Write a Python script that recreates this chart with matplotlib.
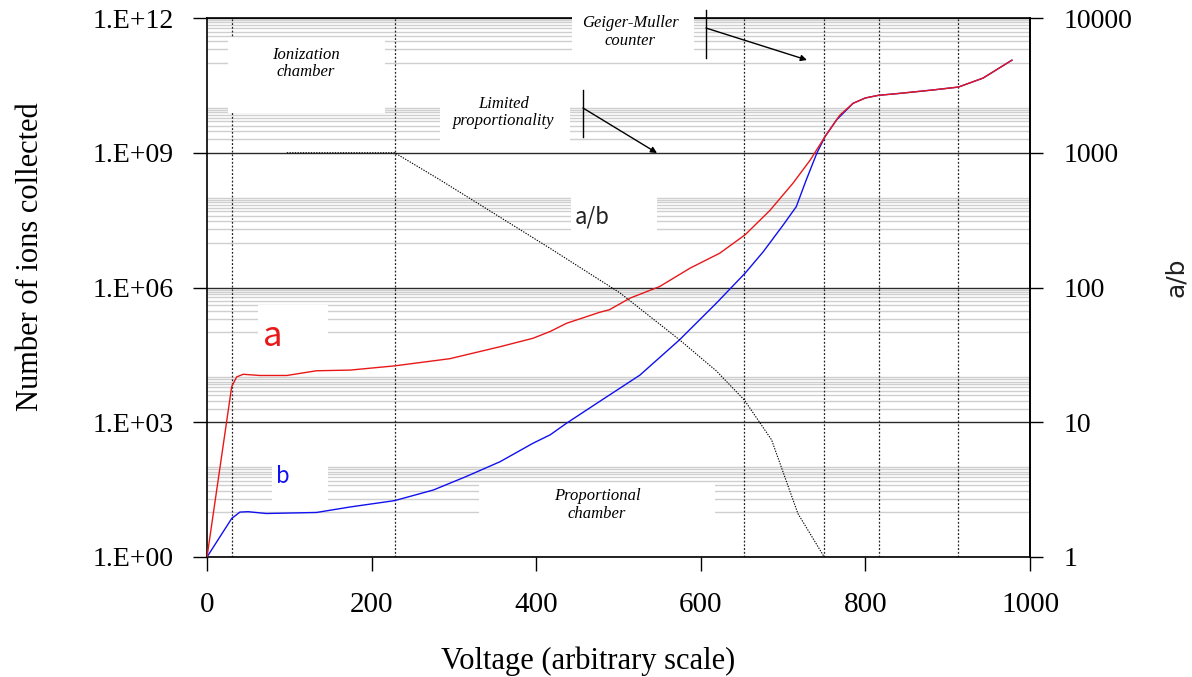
import math
import matplotlib
matplotlib.use("Agg")
import matplotlib.pyplot as plt
from matplotlib.patches import Rectangle
from matplotlib.ticker import FixedLocator, FuncFormatter, NullLocator, NullFormatter

# ---------------- data ----------------
voltage_a = [0, 30, 36, 44, 64, 97, 133, 174, 228, 295, 356, 396, 417, 437, 477, 489,
             514, 550, 587, 623, 654, 684, 712, 733, 751, 769, 785, 800, 816, 842,
             882, 913, 943, 978]
ions_a = [1, 6.2e3, 1.02e4, 1.17e4, 1.1e4, 1.1e4, 1.4e4, 1.45e4, 1.8e4, 2.6e4, 4.8e4,
          7.4e4, 1.05e5, 1.6e5, 2.8e5, 3.2e5, 5.8e5, 1.05e6, 2.7e6, 5.8e6, 1.5e7,
          5.2e7, 2.1e8, 6.9e8, 2.3e9, 6.9e9, 1.26e10, 1.66e10, 1.9e10, 2.1e10,
          2.5e10, 2.9e10, 4.6e10, 1.15e11]

voltage_b = [0, 30, 40, 50, 72, 133, 174, 228, 275, 315, 356, 396, 417, 437, 477, 526,
             574, 619, 654, 676, 700, 716, 728, 741, 751, 765, 785, 800, 816, 842,
             882, 913, 943, 978]
ions_b = [1, 7.2, 10, 10.2, 9.3, 9.8, 13, 18, 31, 62, 132, 340, 525, 955, 2.9e3,
          1.12e4, 6.8e4, 4.5e5, 2.1e6, 6.3e6, 2.45e7, 6.3e7, 2.45e8, 9.8e8, 2.3e9,
          5.4e9, 1.26e10, 1.66e10, 1.9e10, 2.1e10, 2.5e10, 2.9e10, 4.6e10, 1.15e11]

voltage_ratio = [97, 228, 283, 417, 502, 574, 619, 653, 686, 718, 750]
ratio_ab = [1000, 1000, 630, 195, 91, 41, 24, 14.6, 7.4, 2.1, 1]

region_bounds = [30, 228, 653, 750, 816, 913]

x_ticks = [0, 200, 400, 600, 800, 1000]
left_ticks = [1e0, 1e3, 1e6, 1e9, 1e12]
right_ticks = [1, 10, 100, 1000, 10000]

# ---------------- figure ----------------
W, H = 1192, 677
fig = plt.figure(figsize=(W / 100, H / 100), dpi=100)
ax = fig.add_axes([207 / W, 1 - 557 / H, 823 / W, 539 / H])
ax2 = ax.twinx()

serif = "Liberation Serif"
sans = "Noto Sans CJK KR"

ax.set_xlim(0, 1000)
ax.set_yscale("log")
ax.set_ylim(1, 1e12)
ax2.set_yscale("log")
ax2.set_ylim(1, 10000)

# minor (light grey) gridlines like the Excel original
minor_pos = []
for d in [1, 3, 5, 7, 9, 11]:
    minor_pos += [m * 10.0 ** d for m in range(1, 10)] + [10.0 ** (d + 1)]
ax.yaxis.set_major_locator(FixedLocator(left_ticks))
ax.yaxis.set_minor_locator(FixedLocator(minor_pos))
ax.yaxis.set_major_formatter(FuncFormatter(lambda v, p: "1.E+%02d" % round(math.log10(v))))
ax.yaxis.set_minor_formatter(NullFormatter())
ax.grid(which="minor", axis="y", color="#cfcfcf", lw=1.0, zorder=0)
ax.grid(which="major", axis="y", color="#2a2a2a", lw=1.0, zorder=0.5)
ax.set_axisbelow(True)

ax.set_xticks(x_ticks)
ax.set_xticklabels([str(v) for v in x_ticks])
ax.tick_params(axis="x", which="major", direction="out", length=10, width=1,
               pad=15, labelsize=21)
ax.tick_params(axis="y", which="major", direction="out", length=10, width=1,
               pad=14, labelsize=20)
ax.tick_params(axis="y", which="minor", length=0)
for lab in ax.get_xticklabels() + ax.get_yticklabels():
    lab.set_fontfamily(serif)

ax2.yaxis.set_major_locator(FixedLocator(right_ticks))
ax2.yaxis.set_minor_locator(NullLocator())
ax2.yaxis.set_minor_formatter(NullFormatter())
ax2.yaxis.set_major_formatter(FuncFormatter(lambda v, p: "%d" % v))
ax2.tick_params(axis="y", direction="out", length=9, width=1, pad=15, labelsize=20)
for lab in ax2.get_yticklabels():
    lab.set_fontfamily(serif)

for sp in ax.spines.values():
    sp.set_color("black")
    sp.set_linewidth(1.2)
for name in ["top", "left", "bottom"]:
    ax2.spines[name].set_visible(False)
ax2.spines["right"].set_color("black")
ax2.spines["right"].set_linewidth(1.2)

# region boundaries
for xv in region_bounds:
    ax.axvline(xv, color="#222222", lw=0.9, ls=(0, (1.5, 1.5)), zorder=1)

# curves
ax.plot(voltage_b, ions_b, color="#1010f0", lw=1.0, zorder=3)
ax.plot(voltage_a, ions_a, color="#e81818", lw=1.0, zorder=3.1)
ax2.plot(voltage_ratio, ratio_ab, color="black", lw=0.8, ls=(0, (1.2, 1.2)), zorder=3)

# white label boxes (axes fraction)
boxes = [
    (0.0255, 0.8237, 0.2163, 0.9629),   # Ionization chamber
    (0.2831, 0.7644, 0.4411, 0.9109),   # Limited proportionality
    (0.4435, 0.9314, 0.5917, 1.040),    # Geiger-Muller
    (0.4423, 0.5955, 0.5468, 0.6716),   # a/b
    (0.0620, 0.3748, 0.1470, 0.4675),   # a
    (0.0790, 0.0909, 0.1470, 0.1706),   # b
    (0.3305, 0.0500, 0.6173, 0.1354),   # Proportional chamber
]
for x0, y0, x1, y1 in boxes:
    ax2.add_patch(Rectangle((x0, y0), x1 - x0, y1 - y0, transform=ax2.transAxes,
                            facecolor="white", edgecolor="none", zorder=2,
                            clip_on=False))

it = dict(fontfamily=serif, fontstyle="italic", fontsize=12, ha="center",
          va="center", linespacing=1.15, transform=ax2.transAxes, zorder=4)
ax2.text(0.1203, 0.9156, "Ionization\nchamber", **it)
ax2.text(0.3609, 0.8247, "Limited\nproportionality", **it)
ax2.text(0.5140, 0.9740, "Geiger-Muller\ncounter", **it)
ax2.text(0.4739, 0.0965, "Proportional\nchamber", **it)

ax2.text(0.4471, 0.619, "a/b", fontfamily=sans, fontsize=16, color="#222222",
         ha="left", va="baseline", transform=ax2.transAxes, zorder=4)
ax2.text(0.068, 0.392, "a", fontfamily=sans, fontsize=25, color="#e81818",
         ha="left", va="baseline", transform=ax2.transAxes, zorder=4)
ax2.text(0.0838, 0.137, "b", fontfamily=sans, fontsize=16, color="#1010f0",
         ha="left", va="baseline", transform=ax2.transAxes, zorder=4)

# pointer marks with arrows
ax2.plot([0.6063, 0.6063], [1.0148, 0.9258], color="black", lw=1.0,
         transform=ax2.transAxes, clip_on=False, zorder=4)
ax2.annotate("", xy=(0.729, 0.9221), xytext=(0.6063, 0.9814),
             xycoords="axes fraction", textcoords="axes fraction",
             arrowprops=dict(arrowstyle="-|>", color="black", lw=1.0,
                             mutation_scale=9, shrinkA=0, shrinkB=0), zorder=4)
ax2.plot([0.4569, 0.4569], [0.8664, 0.7792], color="black", lw=1.0,
         transform=ax2.transAxes, clip_on=False, zorder=4)
ax2.annotate("", xy=(0.5468, 0.7495), xytext=(0.4569, 0.833),
             xycoords="axes fraction", textcoords="axes fraction",
             arrowprops=dict(arrowstyle="-|>", color="black", lw=1.0,
                             mutation_scale=9, shrinkA=0, shrinkB=0), zorder=4)

# axis titles
fig.text(588 / W, 1 - 661 / H, "Voltage (arbitrary scale)", fontfamily=serif,
         fontsize=22, ha="center", va="center")
fig.text(31 / W, 1 - 257 / H, "Number of ions collected", fontfamily=serif,
         fontsize=22, ha="center", va="center", rotation=90)
fig.text(1176 / W, 1 - 277 / H, "a/b", fontfamily="DejaVu Sans", fontsize=18,
         ha="center", va="center", rotation=90, color="#222222")

fig.savefig("out.png", dpi=100)
